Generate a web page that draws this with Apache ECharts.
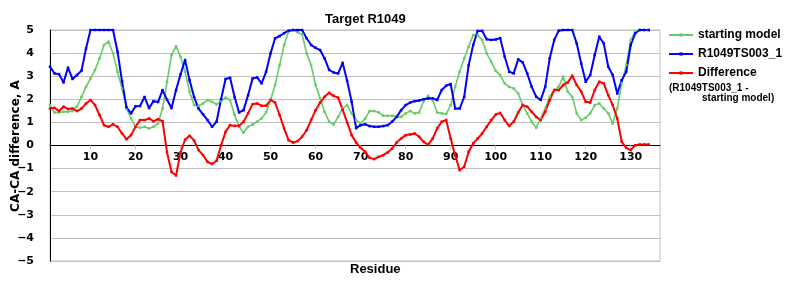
<!DOCTYPE html>
<html>
<head>
<meta charset="utf-8">
<script src="https://cdn.jsdelivr.net/npm/echarts@6/dist/echarts.min.js"></script>
<style>html,body{margin:0;padding:0;background:#fff}#c{width:800px;height:300px}</style>
</head>
<body>
<div id="c"></div>
<script>
var residues = [];
for (var i = 1; i <= 134; i++) residues.push(i);
var tickValues = [10,20,30,40,50,60,70,80,90,100,110,120,130];
var startingModel = [1.75,1.43,1.43,1.46,1.46,1.49,1.68,2.11,2.54,2.9,3.27,3.77,4.35,4.49,3.99,3.19,2.47,1.6,1.17,0.81,0.77,0.81,0.74,0.81,0.95,1.6,2.76,3.92,4.3,3.84,3.19,2.33,1.75,1.72,1.82,1.97,1.89,1.78,1.92,2.07,1.97,1.32,0.81,0.56,0.81,0.91,1.03,1.17,1.43,1.97,2.62,3.48,4.35,4.93,5,4.9,4.81,3.99,3.48,2.62,2.04,1.46,1.03,0.91,1.24,1.6,1.75,1.39,1.1,0.95,1.17,1.49,1.49,1.43,1.29,1.29,1.29,1.24,1.24,1.39,1.49,1.39,1.43,1.92,2.15,1.97,1.43,1.39,1.36,1.75,2.54,3.19,3.77,4.28,4.78,4.78,4.57,3.99,3.63,3.23,3.05,2.69,2.54,2.47,2.25,1.75,1.39,1.03,0.77,1.17,1.6,2.11,2.4,2.54,2.98,2.33,2.11,1.39,1.1,1.2,1.39,1.75,1.82,1.6,1.39,0.95,1.6,2.69,3.48,4.57,4.93,5,5,5];
var ts003 = [3.41,3.12,3.09,2.73,3.37,2.88,3.05,3.24,4.2,5,5,5,5,5,5,4.06,2.78,1.65,1.39,1.7,1.71,2.1,1.62,1.92,1.88,2.4,1.98,1.62,2.4,3.08,3.7,2.83,2.1,1.6,1.35,1.1,0.81,1.03,2.0,2.88,2.93,2.1,1.43,1.53,2.18,2.9,2.95,2.69,3.19,3.99,4.64,4.74,4.86,4.97,5,5,5,4.64,4.35,4.23,4.13,3.77,3.27,3.16,3.12,3.58,2.8,1.9,0.75,0.88,0.92,0.84,0.81,0.81,0.84,0.88,1.03,1.24,1.53,1.75,1.86,1.92,1.95,2.0,2.04,2.04,1.97,2.4,2.59,2.66,1.6,1.6,2.1,3.48,4.35,4.96,4.96,4.6,4.57,4.59,4.65,3.85,3.19,3.12,3.73,3.6,3.12,2.54,2.11,1.97,2.54,3.77,4.57,4.97,5,5,5,4.42,3.55,2.76,3.05,3.92,4.71,4.42,3.41,3.05,2.25,2.83,3.19,4.35,4.86,5,5,5];
var difference = [1.6,1.63,1.49,1.68,1.58,1.6,1.49,1.6,1.82,1.97,1.75,1.32,0.88,0.81,0.92,0.81,0.52,0.27,0.45,0.81,1.1,1.1,1.17,1.05,1.14,1.05,-0.3,-1.15,-1.3,-0.3,0.25,0.42,0.22,-0.2,-0.42,-0.71,-0.8,-0.66,0.01,0.59,0.88,0.85,0.85,1.03,1.39,1.79,1.82,1.72,1.72,1.97,1.86,1.32,0.74,0.23,0.13,0.19,0.38,0.66,1.1,1.53,1.86,2.11,2.28,2.15,2.07,1.55,1.0,0.45,0.13,-0.1,-0.27,-0.53,-0.59,-0.49,-0.42,-0.3,-0.13,0.13,0.3,0.45,0.48,0.52,0.38,0.16,0.04,0.3,0.74,1.03,1.1,0.3,-0.42,-1.07,-0.92,-0.27,0.09,0.3,0.52,0.81,1.1,1.34,1.41,1.1,0.85,1.03,1.43,1.75,1.68,1.46,1.24,1.1,1.46,1.97,2.4,2.4,2.62,2.73,3.02,2.62,2.33,1.89,1.86,2.4,2.76,2.69,2.18,1.75,1.17,0.16,-0.1,-0.2,0.01,0.04,0.04,0.04];

function pairs(vals){ return residues.map(function(r, i){ return [r, vals[i]]; }); }

var chart = echarts.init(document.getElementById('c'), null, {renderer: 'canvas'});
var mk = function(name, color, vals, w){
  return {name: name, type: 'line', data: pairs(vals), symbol: 'rect', symbolSize: 2.5,
    showSymbol: true, itemStyle: {color: color}, lineStyle: {color: color, width: w},
    animation: false, clip: true};
};
chart.setOption({
  animation: false,
  title: {text: 'Target R1049', left: 320, top: 8,
    textStyle: {fontFamily: 'Liberation Sans', fontWeight: 'bold', fontSize: 13, color: '#000'}},
  grid: {left: 50, right: 140, top: 30, bottom: 39, show: true, borderColor: '#c0c0c0', borderWidth: 1},
  legend: {orient: 'vertical', left: 668, top: 29, padding: 0, itemWidth: 24, itemHeight: 4, itemGap: 7,
    textStyle: {fontFamily: 'Liberation Sans', fontWeight: 'bold', fontSize: 12, color: '#000'},
    data: ['starting model', 'R1049TS003_1', 'Difference']},
  xAxis: {type: 'value', min: 1, max: 136.5, position: 'bottom', offset: -115.7,
    axisLine: {onZero: false, lineStyle: {color: '#000', width: 1}},
    axisTick: {show: true, length: 4, lineStyle: {color: '#c0c0c0'}, customValues: tickValues},
    axisLabel: {customValues: tickValues, margin: 6, fontFamily: 'DejaVu Sans', fontWeight: 'bold', fontSize: 11, color: '#000'},
    splitLine: {show: false}},
  yAxis: {type: 'value', min: -5, max: 5, interval: 1,
    axisLine: {show: true, onZero: false, lineStyle: {color: '#000', width: 1}},
    axisTick: {show: false},
    axisLabel: {margin: 16, fontFamily: 'DejaVu Sans', fontWeight: 'bold', fontSize: 11, color: '#000',
      formatter: function(v){ return v < 0 ? '\u2212' + Math.abs(v) : String(v); }},
    splitLine: {show: true, lineStyle: {color: '#c0c0c0', width: 1}}},
  graphic: [
    {type: 'text', x: 16, y: 146, rotation: Math.PI / 2,
      style: {text: 'CA-CA difference, A', font: 'bold 12px "DejaVu Sans"', fill: '#000', textAlign: 'center', textVerticalAlign: 'middle'}},
    {type: 'text', left: 350, top: 263, style: {text: 'Residue', font: 'bold 13px "Liberation Sans"', fill: '#000'}},
    {type: 'text', left: 669, top: 83, style: {text: '(R1049TS003_1 -', font: 'bold 10px "Liberation Sans"', fill: '#000'}},
    {type: 'text', left: 702, top: 93, style: {text: 'starting model)', font: 'bold 10px "Liberation Sans"', fill: '#000'}}
  ],
  series: [
    mk('starting model', '#66cc66', startingModel, 1.6),
    mk('R1049TS003_1', '#0000ff', ts003, 2),
    mk('Difference', '#ff0000', difference, 2)
  ]
});
</script>
</body>
</html>
